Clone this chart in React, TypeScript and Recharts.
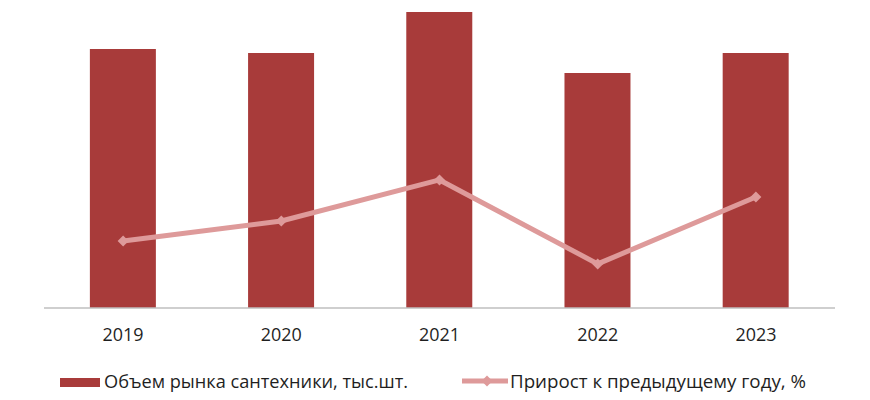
import React from 'react';
import { ComposedChart, Bar, Line, XAxis, YAxis } from 'recharts';

const years = ['2019', '2020', '2021', '2022', '2023'];
const marketVolume = [2590, 2550, 2960, 2350, 2550];
const growthPct = [-11.0, -2.3, 15.5, -20.9, 8.1];
const seriesNames = ['Объем рынка сантехники, тыс.шт.', 'Прирост к предыдущему году, %'];

const data = years.map((y, i) => ({ year: y, volume: marketVolume[i], growth: growthPct[i] }));

const BAR_COLOR = '#A83B3A';
const LINE_COLOR = '#DE9A9A';
const TEXT_COLOR = '#1F1F1F';
const FONT = "'Open Sans', sans-serif";

const Diamond = (props: any) => {
  const { cx, cy } = props;
  if (cx == null || cy == null) return null;
  const r = 5.5;
  return <path d={`M${cx},${cy - r}L${cx + r},${cy}L${cx},${cy + r}L${cx - r},${cy}Z`} fill={LINE_COLOR} stroke="none" />;
};

const Tick = (props: any) => {
  const { x, y, payload } = props;
  return (
    <text x={x} y={y + 25} textAnchor="middle" fill={TEXT_COLOR} fontSize={19} fontFamily={FONT} textLength={41} lengthAdjust="spacingAndGlyphs">
      {payload.value}
    </text>
  );
};

export default function App() {
  return (
    <div style={{ position: 'relative', width: 854, height: 384 }}>
      <ComposedChart width={854} height={384} data={data} margin={{ top: 0, right: 27, left: 36, bottom: 0 }} barCategoryGap="29%">
        <XAxis dataKey="year" height={84} tickLine={false} axisLine={{ stroke: '#BFBFBF', strokeWidth: 1.5 }} tick={<Tick />} interval={0} />
        <YAxis yAxisId="left" hide domain={[0, 3000]} />
        <YAxis yAxisId="right" hide orientation="right" domain={[-40, 90]} />
        <Bar yAxisId="left" dataKey="volume" fill={BAR_COLOR} isAnimationActive={false} />
        <Line yAxisId="right" dataKey="growth" stroke={LINE_COLOR} strokeWidth={5} dot={<Diamond />} activeDot={false} isAnimationActive={false} />
      </ComposedChart>
      <svg width={854} height={390} style={{ position: 'absolute', left: 0, top: 0, pointerEvents: 'none', overflow: 'visible' }}>
        <rect x={52} y={370} width={40} height={9} fill={BAR_COLOR} />
        <text x={96} y={380} fontSize={19} fontFamily={FONT} fill={TEXT_COLOR} textLength={304} lengthAdjust="spacingAndGlyphs">
          {seriesNames[0]}
        </text>
        <line x1={454} y1={373} x2={500} y2={373} stroke={LINE_COLOR} strokeWidth={5} />
        <path d="M479,367.5L484.5,373L479,378.5L473.5,373Z" fill={LINE_COLOR} />
        <text x={502} y={380} fontSize={19} fontFamily={FONT} fill={TEXT_COLOR} textLength={296} lengthAdjust="spacingAndGlyphs">
          {seriesNames[1]}
        </text>
      </svg>
    </div>
  );
}
